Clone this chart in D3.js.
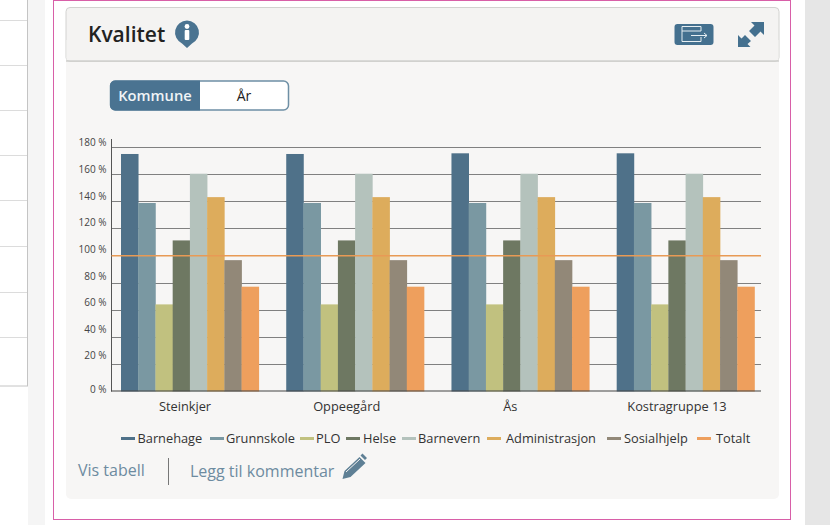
<!DOCTYPE html>
<html><head><meta charset="utf-8">
<script src="https://cdn.jsdelivr.net/npm/d3@7/dist/d3.min.js"></script>
<style>html,body{margin:0;padding:0;background:#fff;overflow:hidden}svg{display:block}text{font-family:"Open Sans",sans-serif}</style>
</head><body><svg id="c" width="830" height="525"></svg>
<script>
const categories=["Steinkjer","Oppeegård","Ås","Kostragruppe 13"];
const seriesNames=["Barnehage","Grunnskole","PLO","Helse","Barnevern","Administrasjon","Sosialhjelp","Totalt"];
const colors=["#4f7189","#7a98a2","#c1c17f","#6e7862","#b4c2bc","#ddac5c","#928878","#ee9f5d"];
const steinkjer=[174.5,138.5,64,111,160,142.8,96.5,77];
const oppegard=[174.5,138.5,64,111,160,142.8,96.5,77];
const aas=[175,138.5,64,111,160,142.8,96.5,77];
const kostra=[175,138.5,64,111,160,142.8,96.5,77];
const rows=[steinkjer,oppegard,aas,kostra];
const yTicks=[0,20,40,60,80,100,120,140,160,180];
const referenceValue=100;

const svg=d3.select("#c");
const rect=(x,y,w,h,f,p={})=>{const r=svg.append("rect").attr("x",x).attr("y",y).attr("width",w).attr("height",h).attr("fill",f);for(const k in p)r.attr(k,p[k]);return r;};

// page surroundings
rect(28,0,17,525,"#f5f5f5");
rect(805,0,25,525,"#e6e6e6");
rect(-2,-2,29.5,388,"#fff",{stroke:"#c4c4c4"});
[20,65,110,155,200,246,292,337].forEach(y=>svg.append("line").attr("x1",0).attr("x2",27).attr("y1",y+.5).attr("y2",y+.5).attr("stroke","#dcdcdc"));
rect(53.5,0.5,737,519,"#fff",{stroke:"#d85fa8"});

// panel
rect(66,7,713,492,"#f7f6f5",{rx:5});
rect(66,7.5,713,54,"#f4f3f2",{rx:4,stroke:"#d2d2d0","stroke-width":1});
rect(66.5,40,712,20,"#f4f3f2");
svg.append("line").attr("x1",66).attr("x2",779).attr("y1",61).attr("y2",61).attr("stroke","#d0d0ce").attr("stroke-width",1.5);
svg.append("text").attr("x",88).attr("y",42).attr("font-size",21).attr("font-weight",600).attr("fill","#222").text("Kvalitet");

// info icon
svg.append("path").attr("d","M187 20.500a12 12 0 0 1 5 22.900L187 48l-5-4.600A12 12 0 0 1 187 20.500z").attr("fill","#4a7391");
svg.append("rect").attr("x",184.700).attr("y",30).attr("width",4.600).attr("height",10).attr("rx",1).attr("fill","#fff");
svg.append("circle").attr("cx",187).attr("cy",26.500).attr("r",2.400).attr("fill","#fff");

// export icon
rect(674.5,24,39,21,"#44708f",{rx:3});
svg.append("path").attr("d","M701 37v4.500h-19v-15h19v4.500M682 31h19M691 35.500h16m-3-2.500l3 2.500-3 2.500").attr("fill","none").attr("stroke","#e6eef2").attr("stroke-width",1);

// expand icon
svg.append("path").attr("d","M764 22V35L760.500 31.500L755 37L749 31L754.500 25.500L751 22zM738 47V35L741.500 38.500L745 35L751 41L747.500 44L750.500 47z").attr("fill","#44708f");

// toggle
rect(110.5,81,178,29,"#fff",{rx:5,stroke:"#6e8fa5","stroke-width":1.5});
svg.append("path").attr("d","M200 80.500H115a5 5 0 0 0-5 5v20a5 5 0 0 0 5 5h85z").attr("fill","#4a7391");
svg.append("text").attr("x",155).attr("y",100.500).attr("text-anchor","middle").attr("font-size",14.700).attr("font-weight",600).attr("fill","#f0f4f6").text("Kommune");
svg.append("text").attr("x",244).attr("y",100.500).attr("text-anchor","middle").attr("font-size",14).attr("font-weight",500).attr("fill","#222").text("År");

// chart
const y=d3.scaleLinear().domain([0,180]).range([391.5,146.5]);
const yLabel=d3.scaleLinear().domain([0,20,180]).range([389.7,355.7,142.7]);
const x0=d3.scaleBand().domain(categories).range([121,754.500]).paddingInner(.166);
const x1=d3.scaleBand().domain(seriesNames).range([0,x0.bandwidth()]);
const labelX=d3.scaleOrdinal().domain(categories).range([185,346.7,510.3,677]);

const yAxis=svg.append("g").attr("transform","translate(111.5,0)")
  .call(d3.axisLeft(yLabel).tickValues(yTicks).tickSize(0).tickPadding(5).tickFormat(d=>d+" %"));
yAxis.select(".domain").remove();
yAxis.selectAll("text").attr("font-size",10).attr("fill","#444").attr("font-family",'"Open Sans",sans-serif');

svg.append("g").selectAll("line").data(yTicks.filter(d=>d>0)).join("line")
  .attr("x1",111.5).attr("x2",761).attr("y1",d=>Math.round(y(d))+.5).attr("y2",d=>Math.round(y(d))+.5)
  .attr("stroke","#808080").attr("stroke-width",1);

svg.append("g").selectAll("g").data(rows).join("g")
  .attr("transform",(d,i)=>`translate(${x0(categories[i])},0)`)
  .selectAll("rect").data(d=>d.map((v,i)=>({v,i}))).join("rect")
  .attr("x",d=>x1(seriesNames[d.i])).attr("width",x1.bandwidth()+.3)
  .attr("y",d=>y(d.v)).attr("height",d=>y(0)-y(d.v)).attr("fill",d=>colors[d.i]);

svg.append("line").attr("x1",111.5).attr("x2",111.5).attr("y1",139).attr("y2",391.5).attr("stroke","#555");
svg.append("line").attr("x1",111).attr("x2",761).attr("y1",391).attr("y2",391).attr("stroke","#444").attr("stroke-width",1.2);
svg.append("line").attr("x1",111.5).attr("x2",761).attr("y1",y(referenceValue)+.3).attr("y2",y(referenceValue)+.3).attr("stroke","#e89a55").attr("stroke-width",1.6);

svg.append("g").selectAll("text").data(categories).join("text")
  .attr("x",d=>labelX(d)).attr("y",411).attr("text-anchor","middle").attr("font-size",12.8).attr("fill","#333").text(d=>d);

// legend
const legendLine=[121,210,300,346,402,487,607,697];
const legendText=[137.5,226,316,363,418,506,624,716];
const lg=svg.append("g");
lg.selectAll("line").data(seriesNames).join("line")
  .attr("x1",(d,i)=>legendLine[i]).attr("x2",(d,i)=>legendLine[i]+14).attr("y1",438.5).attr("y2",438.5)
  .attr("stroke",(d,i)=>colors[i]).attr("stroke-width",3);
lg.selectAll("text").data(seriesNames).join("text")
  .attr("x",(d,i)=>legendText[i]).attr("y",443).attr("font-size",12.8).attr("fill","#333").text(d=>d);

// footer
svg.append("text").attr("x",78).attr("y",476).attr("font-size",16).attr("fill","#6d8ba0").text("Vis tabell");
svg.append("line").attr("x1",168.5).attr("x2",168.5).attr("y1",458).attr("y2",485).attr("stroke","#777");
svg.append("text").attr("x",190).attr("y",477).attr("font-size",16).attr("fill","#6d8ba0").text("Legg til kommentar");
svg.append("path").attr("d","M342.500 479l2-8 15-14 6 6-15 14zM360.500 455.500l2-2 4.500 4.500-2 2z").attr("fill","#5f8095");
svg.append("path").attr("d","M346 472l14-13").attr("stroke","#f6f5f4").attr("stroke-width",1);
</script></body></html>
